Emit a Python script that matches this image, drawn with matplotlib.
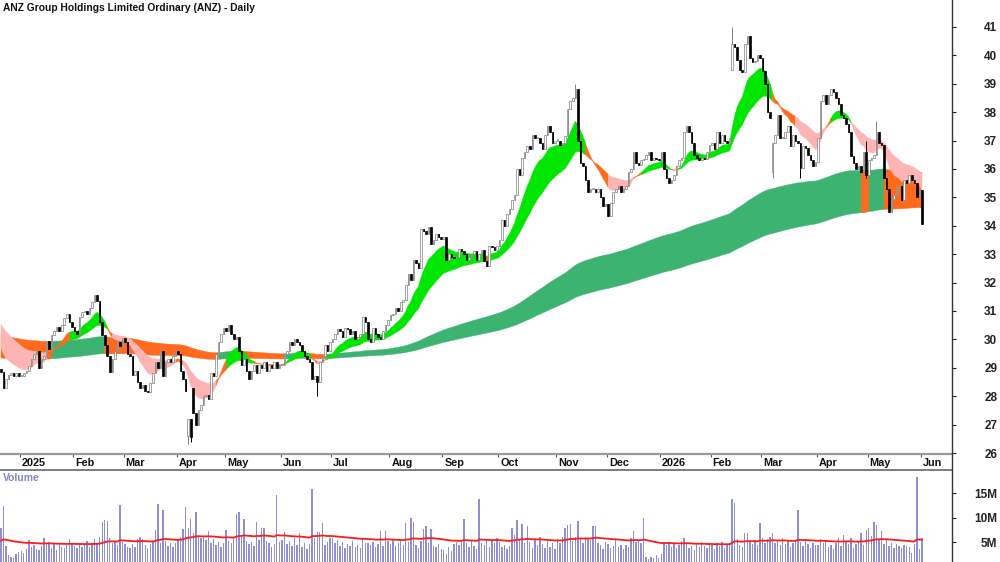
import numpy as np
import pandas as pd
import matplotlib
matplotlib.use("Agg")
import matplotlib.pyplot as plt
from matplotlib.lines import Line2D
from matplotlib.transforms import blended_transform_factory

plt.rcParams['font.family'] = ['Liberation Sans', 'DejaVu Sans']

# daily closes, one list per month
c_2024_12 = [28.85, 28.3, 28.6, 28.75, 28.8, 28.7, 28.8, 28.7]
c_2025_01 = [28.7, 28.8, 28.9, 29.05, 29.3, 29.5, 29.6, 29.0, 29.3, 29.4, 29.95, 29.65, 30.15, 30.3,
             30.45, 30.3, 30.5, 30.75, 30.9, 30.6, 30.45]
c_2025_02 = [30.3, 30.2, 30.8, 30.95, 31.0, 30.9, 31.1, 31.3, 31.55, 31.35, 30.6, 30.15, 29.8, 29.4,
             28.85, 29.3, 29.6, 29.9, 29.75, 30.05]
c_2025_03 = [29.9, 29.5, 29.4, 28.75, 28.9, 28.5, 28.3, 28.4, 28.2, 28.15, 28.45, 28.8, 29.2, 29.0,
             29.6, 28.7, 29.2, 29.3, 29.2, 29.4, 29.6]
c_2025_04 = [29.5, 28.9, 28.6, 28.2, 27.2, 26.55, 27.4, 27.0, 27.5, 27.7, 28.0, 28.05, 27.9, 28.8,
             28.7, 29.5, 29.9, 30.2, 30.4]
c_2025_05 = [30.3, 30.5, 30.2, 30.0, 30.1, 29.6, 29.1, 29.3, 28.9, 28.6, 28.9, 29.1, 28.8, 29.1,
             29.0, 29.2, 28.9, 29.1, 29.0, 29.2, 29.0, 29.1]
c_2025_06 = [29.1, 29.5, 29.6, 29.9, 29.8, 30.0, 29.9, 29.8, 29.6, 29.4, 29.3, 29.2, 28.6, 28.7,
             28.5, 29.2, 29.4, 29.8, 29.6, 29.9]
c_2025_07 = [30.0, 30.2, 30.35, 30.3, 30.1, 30.4, 30.35, 30.2, 30.3, 30.0, 30.1, 30.2, 30.8, 30.6,
             30.0, 29.9, 30.4, 30.2, 30.1, 30.0, 30.3, 30.5, 30.7]
c_2025_08 = [30.85, 30.9, 31.1, 31.0, 31.3, 31.4, 31.9, 32.3, 32.1, 32.8, 32.7, 32.5, 33.9, 33.8,
             33.7, 33.95, 33.35, 33.5, 33.7, 33.6, 33.55]
c_2025_09 = [33.6, 32.8, 33.0, 32.9, 32.85, 32.9, 33.2, 33.1, 33.0, 32.8, 32.9, 33.0, 33.1, 32.8,
             33.0, 33.15, 32.75, 32.6, 33.3, 33.25, 33.15, 33.3]
c_2025_10 = [33.5, 34.2, 34.0, 34.4, 34.6, 34.9, 35.1, 36.0, 35.8, 36.4, 36.6, 36.8, 36.7, 37.2,
             37.1, 37.1, 36.9, 36.7, 37.2, 37.5, 37.3, 36.9, 37.0]
c_2025_11 = [37.0, 36.85, 36.9, 37.15, 38.1, 38.4, 38.5, 38.8, 37.0, 36.2, 36.1, 35.6, 35.2, 35.3,
             35.3, 35.2, 35.3, 35.0, 34.7, 34.75]
c_2025_12 = [34.35, 34.8, 35.2, 35.3, 35.4, 35.2, 35.3, 35.4, 35.9, 36.0, 36.6, 36.2, 36.15, 36.3,
             36.35, 36.5, 36.6, 36.3, 36.4, 36.35, 36.3]
c_2026_01 = [36.6, 36.0, 35.7, 35.5, 35.6, 35.8, 36.1, 36.3, 36.4, 37.3, 37.5, 37.3, 36.9, 36.5,
             36.4, 36.3, 36.4, 36.35, 36.6, 36.85]
c_2026_02 = [36.9, 36.7, 37.3, 36.9, 37.2, 37.0, 36.9, 37.1, 40.4, 40.3, 39.85, 39.5, 39.4, 40.4,
             40.7, 39.9, 39.75, 39.8, 40.0, 39.9]
c_2026_03 = [39.45, 39.0, 38.0, 37.8, 36.9, 37.2, 37.9, 37.1, 37.1, 37.3, 37.5, 36.8, 37.2, 37.0,
             36.9, 36.05, 36.8, 36.75, 36.5, 36.3, 36.1, 36.25]
c_2026_04 = [37.1, 38.4, 38.6, 38.3, 38.6, 38.8, 38.7, 38.5, 38.3, 37.9, 37.8, 37.6, 37.3, 36.45,
             36.2, 36.0, 36.1, 35.9, 36.6, 35.8]
c_2026_05 = [36.3, 36.4, 36.5, 37.3, 36.9, 36.85, 35.7, 35.3, 34.5, 34.95, 35.1, 35.35, 35.4, 34.9,
             35.6, 35.5, 35.8, 35.6, 35.5, 35.0, 35.25]
c_2026_06 = [34.05]

# daily volume in millions
v_2024_12 = [7.9, 12.3, 4.1, 2.4, 2.0, 1.7, 2.6, 2.9]
v_2025_01 = [3.2, 2.8, 3.6, 5.5, 3.9, 4.3, 3.5, 3.3, 4.1, 5.9, 4.5, 5.1, 3.8, 4.6, 3.4, 4.9, 4.0,
             3.7, 4.4, 5.7, 4.6]
v_2025_02 = [4.2, 3.7, 4.8, 3.9, 4.5, 5.3, 4.0, 4.7, 5.6, 4.9, 6.0, 9.1, 9.5, 9.2, 5.8, 4.7, 5.2,
             4.4, 12.6, 5.0]
v_2025_03 = [4.5, 4.0, 3.7, 4.6, 3.9, 5.7, 6.0, 5.7, 4.3, 3.8, 4.6, 5.2, 7.5, 12.7, 4.9, 11.6, 5.3,
             4.1, 4.8, 3.9, 4.7]
v_2025_04 = [5.4, 6.1, 7.7, 12.1, 7.9, 9.7, 6.8, 11.2, 6.5, 5.8, 6.2, 5.5, 7.3, 4.9, 5.6, 4.4, 5.1,
             4.0, 4.7]
v_2025_05 = [7.4, 5.2, 4.8, 6.0, 10.8, 11.2, 6.1, 9.7, 5.3, 4.6, 5.0, 4.2, 9.1, 5.5, 7.9, 7.9, 5.2,
             4.8, 3.9, 4.5, 14.6, 5.1]
v_2025_06 = [5.5, 7.0, 4.6, 5.2, 4.1, 5.8, 4.4, 6.9, 3.9, 4.7, 3.6, 4.5, 15.8, 5.9, 7.0, 7.0, 8.8,
             4.3, 5.0, 5.9]
v_2025_07 = [5.9, 4.8, 5.4, 4.2, 5.0, 3.8, 4.6, 4.1, 5.2, 3.9, 4.4, 3.7, 5.6, 4.9, 4.8, 4.3, 5.1,
             3.9, 4.6, 7.3, 4.2, 7.3, 5.3]
v_2025_08 = [4.6, 5.5, 4.1, 4.8, 5.2, 4.3, 8.8, 5.0, 10.0, 9.1, 4.4, 3.8, 5.3, 7.6, 8.2, 4.9, 7.6,
             4.2, 3.9, 4.6, 3.5]
v_2025_09 = [3.4, 2.6, 4.0, 3.2, 4.6, 5.1, 4.3, 5.4, 9.7, 4.8, 3.9, 5.2, 4.1, 3.6, 13.8, 4.9, 4.4,
             5.6, 4.0, 5.5, 4.7, 5.8]
v_2025_10 = [5.0, 3.9, 4.4, 3.6, 4.1, 7.9, 6.5, 9.5, 5.4, 8.6, 4.7, 8.3, 5.1, 3.8, 5.6, 4.3, 6.0,
             4.5, 3.7, 5.2, 4.0, 4.8, 3.6]
v_2025_11 = [5.6, 4.9, 6.1, 7.9, 8.4, 8.6, 5.3, 6.0, 9.3, 5.8, 4.7, 6.1, 5.9, 5.5, 8.3, 8.3, 4.9,
             4.4, 3.6, 5.0]
v_2025_12 = [4.6, 3.7, 4.1, 5.5, 3.9, 4.4, 3.6, 4.3, 4.0, 5.8, 7.3, 5.1, 5.4, 4.9, 9.8, 1.9, 1.6,
             2.0, 1.8, 2.3, 1.7]
v_2026_01 = [2.6, 4.9, 4.4, 5.1, 3.9, 4.6, 3.7, 4.3, 5.2, 5.9, 4.8, 3.8, 4.1, 3.4, 4.5, 3.9, 5.0,
             4.2, 3.7, 4.6]
v_2026_02 = [4.3, 3.6, 4.8, 4.1, 5.0, 3.7, 4.5, 4.9, 13.8, 12.9, 5.6, 4.4, 3.9, 6.8, 6.8, 5.2, 4.6,
             5.5, 4.3, 8.8]
v_2026_03 = [5.8, 4.9, 5.6, 6.0, 6.9, 4.7, 5.3, 4.4, 5.9, 4.6, 5.2, 3.9, 4.8, 5.5, 11.5, 5.0, 4.2,
             5.7, 4.5, 3.8, 4.9, 4.3]
v_2026_04 = [4.4, 5.6, 4.8, 5.1, 3.9, 4.3, 3.6, 4.7, 5.8, 4.1, 6.4, 5.0, 4.5, 5.9, 3.8, 4.6, 5.2,
             6.9, 4.4, 7.5]
v_2026_05 = [7.9, 6.2, 9.1, 8.5, 5.7, 7.3, 4.6, 5.4, 4.2, 4.9, 3.8, 4.5, 4.1, 3.7, 4.4, 4.2, 3.9,
             2.8, 4.6, 18.3, 3.6]
v_2026_06 = [5.8]

first_open = 28.95
gap_opens = {74: 26.6, 76: 28.3, 289: 39.5, 305: 35.9}
wick_lows = {74: 26.3, 75: 26.4, 125: 28.0, 305: 35.7, 316: 35.7, 342: 35.7}
wick_highs = {227: 39.0, 289: 41.0, 342: 37.0, 346: 37.7}

# moving-average groups and their levels at the left edge of the chart
short_periods = [12, 15, 18, 21, 25, 30]
short_seeds = [29.85, 30.0, 30.15, 30.3, 30.5, 30.65]
long_periods = [175, 300]
long_seeds = [30.15, 29.35]
vol_ma_seed = 5.2

asx_holidays = ['2024-12-25', '2024-12-26', '2025-01-01', '2025-01-27', '2025-04-18', '2025-04-21',
                '2025-04-25', '2025-06-09', '2025-12-25', '2025-12-26', '2026-01-01', '2026-01-26',
                '2026-04-03', '2026-04-06']

closes = np.array(c_2024_12 + c_2025_01 + c_2025_02 + c_2025_03 + c_2025_04 + c_2025_05 + c_2025_06
                  + c_2025_07 + c_2025_08 + c_2025_09 + c_2025_10 + c_2025_11 + c_2025_12 + c_2026_01
                  + c_2026_02 + c_2026_03 + c_2026_04 + c_2026_05 + c_2026_06)
vols = np.array(v_2024_12 + v_2025_01 + v_2025_02 + v_2025_03 + v_2025_04 + v_2025_05 + v_2025_06
                + v_2025_07 + v_2025_08 + v_2025_09 + v_2025_10 + v_2025_11 + v_2025_12 + v_2026_01
                + v_2026_02 + v_2026_03 + v_2026_04 + v_2026_05 + v_2026_06)
dates = pd.bdate_range('2024-12-18', '2026-06-01', freq='C', holidays=asx_holidays)[:len(closes)]
n = len(closes)
x = np.arange(n)

opens = np.r_[first_open, closes[:-1]]
for i, v in gap_opens.items():
    opens[i] = v
highs = np.maximum(opens, closes)
lows = np.minimum(opens, closes)
for i, v in wick_highs.items():
    highs[i] = max(highs[i], v)
for i, v in wick_lows.items():
    lows[i] = min(lows[i], v)


def ema(values, period, seed):
    a = 2.0 / (period + 1)
    out = np.empty(len(values))
    e = seed
    for i, v in enumerate(values):
        e = e + a * (v - e)
        out[i] = e
    return out


def band(ax, lo, hi, mask, color, z):
    m = mask.copy()
    m[1:] = m[1:] | mask[:-1]
    ax.fill_between(x, np.minimum(lo, hi), np.maximum(lo, hi), where=m, color=color,
                    lw=0.3, edgecolor=color, zorder=z, interpolate=False)


GREEN = '#00e600'
SEA = '#3cb371'
ORANGE = '#ff6a1c'
PINK = '#ffb4b4'

short = np.array([ema(closes, p, s) for p, s in zip(short_periods, short_seeds)])
lf, ls = [ema(closes, p, s) for p, s in zip(long_periods, long_seeds)]
vma = ema(vols, 60, vol_ma_seed)

steps = np.diff(short, axis=0)          # slower minus faster
s_up = (steps < 0).all(axis=0)          # fully stacked bullish
s_pink = (steps > 0).all(axis=0)        # fully stacked bearish
s_orange = ~s_up & ~s_pink
l_up = closes > lf

fig = plt.figure(figsize=(10, 5.62), dpi=100)
ax = fig.add_axes([0, 1 - 454 / 562, 0.952, 454 / 562])
axv = fig.add_axes([0, 0, 0.952, 92 / 562])

# ribbons
band(ax, lf, ls, l_up, SEA, 1)
band(ax, lf, ls, ~l_up, ORANGE, 1)
band(ax, short[0], short[-1], s_up, GREEN, 2)
band(ax, short[0], short[-1], s_orange, ORANGE, 2)
band(ax, short[0], short[-1], s_pink, PINK, 2)

# candles
up = closes >= opens
body_lo = np.minimum(opens, closes)
body_h = np.maximum(np.abs(closes - opens), 0.04)
wick_c = np.where(up, '#808080', '#000000')
ax.vlines(x, lows, highs, colors=wick_c, lw=0.7, zorder=3)
ax.bar(x, body_h, bottom=body_lo, width=0.62, color=np.where(up, 'white', 'black'),
       edgecolor=np.where(up, '#808080', 'black'), linewidth=0.5, zorder=4)

ax.set_xlim(-0.4, 375.9)
ax.set_ylim(25.965, 41.95)
for s in ['left', 'top', 'right']:
    ax.spines[s].set_visible(False)
ax.spines['bottom'].set_color('#999999')
ax.spines['bottom'].set_linewidth(1.6)

ax.yaxis.tick_right()
ax.set_yticks(range(26, 42))
ax.tick_params(axis='y', direction='out', length=3, width=0.8, pad=29.5, labelsize=8.5, colors='#222222')
for lab in ax.get_yticklabels():
    lab.set_ha('right')
    lab.set_fontweight('bold')

months = pd.Series(dates.to_period('M'))
starts = np.where(months.ne(months.shift()).values)[0][1:]
ax.set_xticks(starts - 0.5)
ax.tick_params(axis='x', direction='out', length=2.5, width=0.8, colors='#555555', labelbottom=False)
tr = blended_transform_factory(ax.transData, ax.transAxes)
for i in starts:
    d = dates[i]
    lab = str(d.year) if d.month == 1 else d.strftime('%b')
    ax.text(i + 0.3, -9 / 454, lab, transform=tr, ha='left', va='center', fontsize=7.8,
            fontweight='bold', color='#111111')

fig.text(0.003, 1 - 8 / 562, 'ANZ Group Holdings Limited Ordinary (ANZ) - Daily', fontsize=7.4,
         fontweight='bold', va='center', ha='left', color='#111111')

# volume panel
axv.bar(x, vols, width=0.55, color='#8f8fd6', zorder=2)
axv.plot(x, vma, color='#ff1a1a', lw=1.3, zorder=3)
axv.set_xlim(-0.4, 375.9)
axv.set_ylim(0.92, 19.7)
for s in ['left', 'right', 'bottom']:
    axv.spines[s].set_visible(False)
axv.spines['top'].set_color('#666666')
axv.spines['top'].set_linewidth(1.2)
axv.set_xticks([])
axv.yaxis.tick_right()
axv.set_yticks([5, 10, 15])
axv.set_yticklabels(['5M', '10M', '15M'])
axv.tick_params(axis='y', direction='out', length=3, width=0.8, pad=29.5, labelsize=8.5, colors='#222222')
for lab in axv.get_yticklabels():
    lab.set_ha('right')
    lab.set_fontweight('bold')
axv.text(3 / 952, 1 - 8 / 92, 'Volume', transform=axv.transAxes, fontsize=7.4, fontweight='bold',
         color='#8585c5', ha='left', va='center')

fig.add_artist(Line2D([0.952, 0.952], [0, 1], color='#333333', lw=1.0))

fig.savefig('out.png', dpi=100)
